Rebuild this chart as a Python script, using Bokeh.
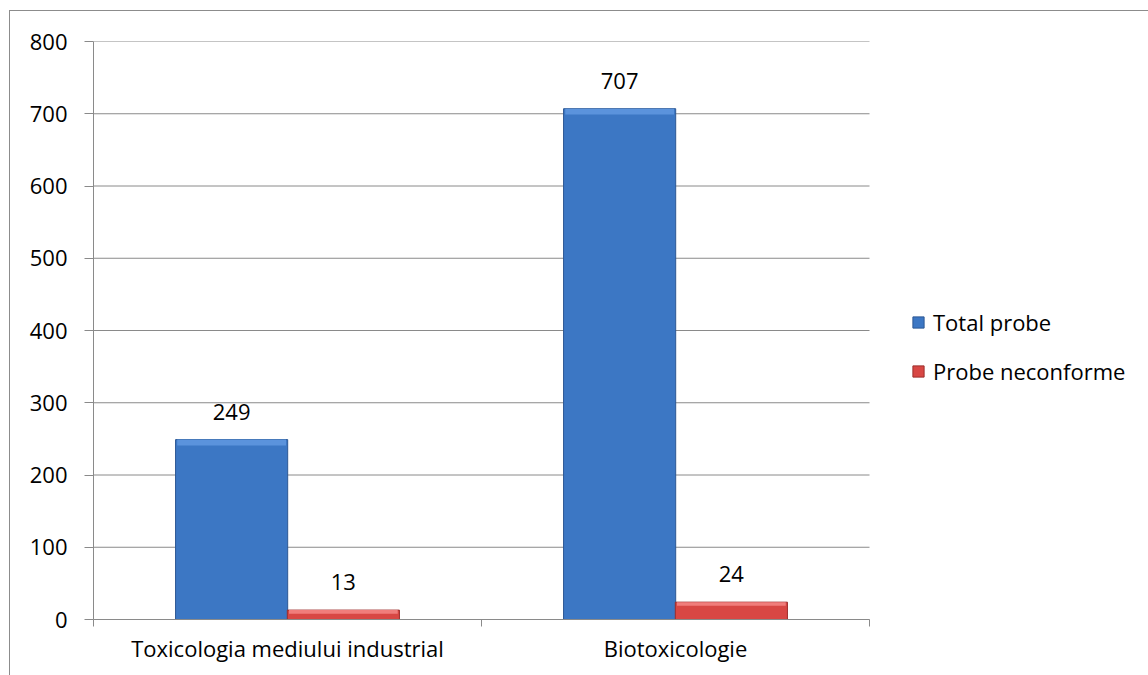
from bokeh.plotting import figure
from bokeh.models import FixedTicker, Legend, LegendItem, ColumnDataSource, LabelSet
from bokeh.core.properties import value
from bokeh.embed import file_html
from bokeh.resources import INLINE

categories = ["Toxicologia mediului industrial", "Biotoxicologie"]
series_names = ["Total probe", "Probe neconforme"]
total_probe = [249, 707]
probe_neconforme = [13, 24]
y_ticks = [0, 100, 200, 300, 400, 500, 600, 700, 800]

FONT = "Open Sans"
FS = "22px"
GRID = "#8a8a8a"

n = len(categories)
# plot area spans 776 px for the categories; the frame extends further right to hold the legend
FIG_W, LEFT = 1150, 83
frame_w = FIG_W - LEFT
x_end = n * frame_w / 776.0

p = figure(width=FIG_W, height=680, output_backend="svg", toolbar_location=None,
           x_range=(0, x_end), y_range=(0, 800),
           min_border_left=LEFT, min_border_right=0, min_border_top=30, min_border_bottom=72)
p.styles = {"border": "1px solid #8c8c8c", "margin-left": "9px", "margin-top": "10px"}
p.outline_line_color = None
p.background_fill_color = "white"

idx = list(range(n))
x_tot = [i + 0.356 for i in idx]
x_neg = [i + 0.644 for i in idx]
w = 0.289

# horizontal grid lines limited to the category area
p.segment(x0=[0] * len(y_ticks), x1=[n] * len(y_ticks), y0=y_ticks, y1=y_ticks,
          line_color=GRID, line_width=1)

src_t = ColumnDataSource(dict(x=x_tot, top=total_probe, bev=[v - 8 for v in total_probe],
                              lab=[str(v) for v in total_probe]))
src_n = ColumnDataSource(dict(x=x_neg, top=probe_neconforme, bev=[v - 5 for v in probe_neconforme],
                              lab=[str(v) for v in probe_neconforme]))

r1 = p.vbar(x="x", top="top", width=w, source=src_t, fill_color="#3c77c4", line_color="#2d5894", line_width=1)
p.vbar(x="x", top="top", bottom="bev", width=w * 0.97, source=src_t,
       fill_color="#5b93dc", line_color=None)
r2 = p.vbar(x="x", top="top", width=w, source=src_n, fill_color="#d84744", line_color="#9c2e2c", line_width=1)
p.vbar(x="x", top="top", bottom="bev", width=w * 0.97, source=src_n,
       fill_color="#f07d7b", line_color=None)

for s in (src_t, src_n):
    p.add_layout(LabelSet(x="x", y="top", text="lab", source=s, text_align="center",
                          text_baseline="bottom", y_offset=20, text_font=value(FONT),
                          text_font_size=FS, text_color="black"))

# y axis
p.yaxis.ticker = FixedTicker(ticks=y_ticks)
p.yaxis.axis_line_color = GRID
p.yaxis.major_tick_line_color = GRID
p.yaxis.major_tick_out = 9
p.yaxis.major_tick_in = 0
p.yaxis.minor_tick_line_color = None
p.yaxis.major_label_standoff = 17
p.yaxis.major_label_text_font = FONT
p.yaxis.major_label_text_font_size = FS
p.yaxis.major_label_text_color = "black"

# x axis
p.xaxis.bounds = (0, n)
p.xaxis.ticker = FixedTicker(ticks=[i + 0.5 for i in idx], minor_ticks=list(range(n + 1)))
p.xaxis.major_label_overrides = {i + 0.5: c for i, c in enumerate(categories)}
p.xaxis.axis_line_color = GRID
p.xaxis.major_tick_line_color = None
p.xaxis.major_tick_out = 0
p.xaxis.major_tick_in = 0
p.xaxis.minor_tick_line_color = GRID
p.xaxis.minor_tick_out = 7
p.xaxis.minor_tick_in = 0
p.xaxis.major_label_standoff = 6
p.xaxis.major_label_text_font = FONT
p.xaxis.major_label_text_font_size = FS
p.xaxis.major_label_text_color = "black"

p.xgrid.grid_line_color = None
p.ygrid.grid_line_color = None

legend = Legend(items=[LegendItem(label=series_names[0], renderers=[r1]),
                       LegendItem(label=series_names[1], renderers=[r2])],
                location=(818, 233), border_line_color=None, background_fill_alpha=0,
                padding=0, margin=0, spacing=19, glyph_width=14, glyph_height=14,
                label_standoff=8, label_text_font=FONT, label_text_font_size=FS,
                label_text_color="black", label_height=25)
p.add_layout(legend, "center")

open("out.html", "w").write(file_html(p, INLINE))
